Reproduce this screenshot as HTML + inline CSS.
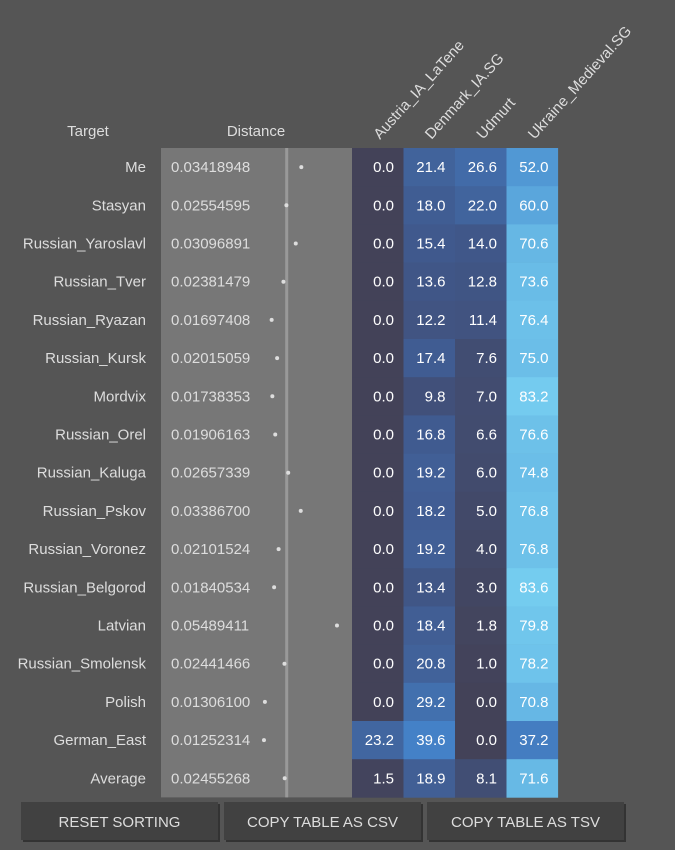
<!DOCTYPE html>
<html><head><meta charset="utf-8"><style>
body{margin:0;background:#555;width:675px;height:850px;overflow:hidden;font-family:"Liberation Sans",sans-serif}
svg{display:block}
</style></head><body>
<svg id="chart" width="675" height="850" font-family="Liberation Sans, sans-serif"></svg>
<script>
const targets=["Me","Stasyan","Russian_Yaroslavl","Russian_Tver","Russian_Ryazan","Russian_Kursk","Mordvix","Russian_Orel","Russian_Kaluga","Russian_Pskov","Russian_Voronez","Russian_Belgorod","Latvian","Russian_Smolensk","Polish","German_East","Average"];
const distances=[0.03418948,0.02554595,0.03096891,0.02381479,0.01697408,0.02015059,0.01738353,0.01906163,0.02657339,0.03386700,0.02101524,0.01840534,0.05489411,0.02441466,0.01306100,0.01252314,0.02455268];
const columns=["Austria_IA_LaTene","Denmark_IA.SG","Udmurt","Ukraine_Medieval.SG"];
const austria=[0,0,0,0,0,0,0,0,0,0,0,0,0,0,0,23.2,1.5];
const denmark=[21.4,18.0,15.4,13.6,12.2,17.4,9.8,16.8,19.2,18.2,19.2,13.4,18.4,20.8,29.2,39.6,18.9];
const udmurt=[26.6,22.0,14.0,12.8,11.4,7.6,7.0,6.6,6.0,5.0,4.0,3.0,1.8,1.0,0.0,0.0,8.1];
const ukraine=[52.0,60.0,70.6,73.6,76.4,75.0,83.2,76.6,74.8,76.8,76.8,83.6,79.8,78.2,70.8,37.2,71.6];
const series=[austria,denmark,udmurt,ukraine];

const NS="http://www.w3.org/2000/svg";
const svg=document.getElementById('chart');
function mk(tag,attrs,parent){const e=document.createElementNS(NS,tag);for(const k in attrs)e.setAttribute(k,attrs[k]);(parent||svg).appendChild(e);return e;}
const top0=148,rowH=38.2;
const rowY=i=>top0+i*rowH;
const dx=d=>242.4+d*1723;
const colX=j=>352+j*51.5;
const stops=[[0,[67,66,88]],[15,[64,88,140]],[40,[68,130,200]],[60,[90,166,220]],[85,[118,206,240]]];
function color(v){for(let i=1;i<stops.length;i++){if(v<=stops[i][0]){const a=stops[i-1],b=stops[i];const t=(v-a[0])/(b[0]-a[0]);const c=a[1].map((x,k)=>Math.round(x+(b[1][k]-x)*t));return `rgb(${c})`;}}return 'rgb(118,206,240)';}

let t=mk('text',{x:88,y:136,'text-anchor':'middle','font-size':15,fill:'#ddd'});t.textContent='Target';


t=mk('text',{x:256,y:136,'text-anchor':'middle','font-size':15,fill:'#ddd'});t.textContent='Distance';


columns.forEach((c,j)=>{const x=colX(j)+28,y=140;const e=mk('text',{x:x,y:y,transform:`rotate(-48 ${x} ${y})`,'font-size':15,fill:'#ddd'});e.textContent=c;

});

const bg=mk('rect',{x:161,y:top0,width:191,height:rowH*targets.length,fill:'#777'});


const avg=distances[distances.length-1];
const ln=mk('rect',{x:dx(avg)+0.5,y:top0,width:3,height:rowH*targets.length,fill:'#999'});



targets.forEach((name,i)=>{
 const y=rowY(i),cy=y+rowH/2+5;
 const a=mk('text',{x:146,y:cy,'text-anchor':'end','font-size':15,fill:'#ddd'});a.textContent=name;
 
 
 const b=mk('text',{x:171,y:cy,'font-size':15,fill:'#ddd'});b.textContent=distances[i].toFixed(8);
 
 
 const d=mk('circle',{cx:dx(distances[i]),cy:y+rowH/2,r:2,fill:'#ddd'});
 
 
 series.forEach((s,j)=>{
  const r=mk('rect',{x:colX(j),y:y,width:51.6,height:rowH+0.3,fill:color(s[i])});
  
  
  const tx=mk('text',{x:colX(j)+42,y:cy,'text-anchor':'end','font-size':15,fill:'#fff'});tx.textContent=s[i].toFixed(1);
  
  
 });
});
const btns=[["RESET SORTING",21,'reset-sorting-button'],["COPY TABLE AS CSV",224,'copy-csv-button'],["COPY TABLE AS TSV",427,'copy-tsv-button']];
btns.forEach(([label,x,nm])=>{
 const g=mk('g',{});
 
 
 mk('rect',{x:x+2,y:804,width:197,height:38,fill:'#333'},g);
 mk('rect',{x:x,y:802,width:197,height:38,fill:'#414141'},g);
 const e=mk('text',{x:x+98.5,y:827,'text-anchor':'middle','font-size':15,fill:'#ddd'},g);e.textContent=label;
});
</script>
</body></html>
